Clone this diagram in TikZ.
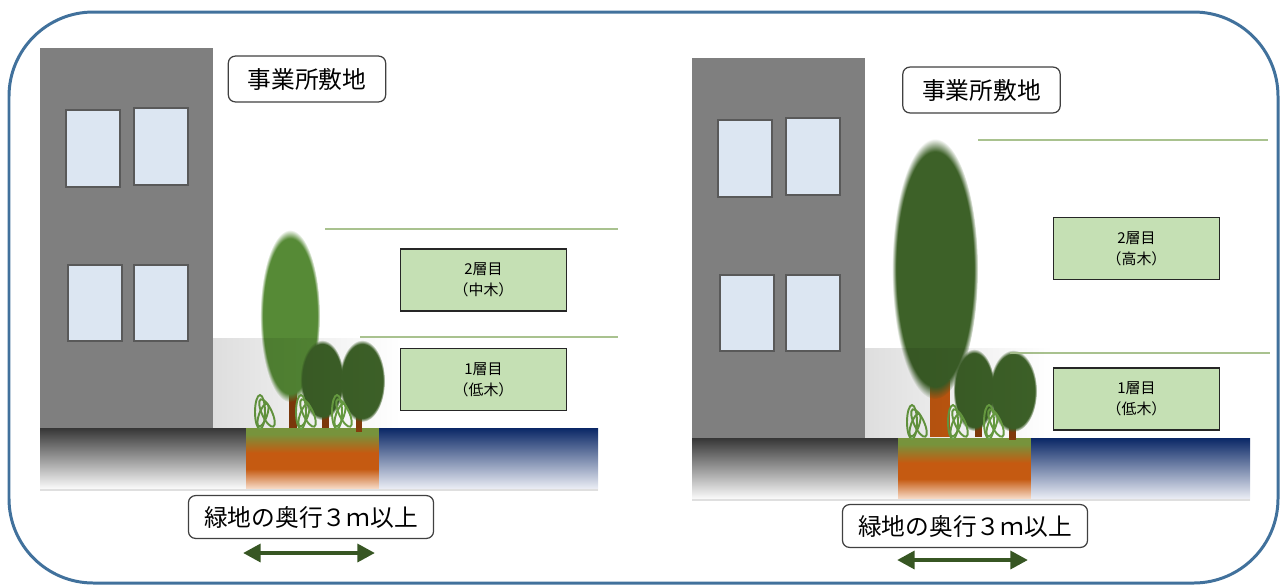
\documentclass[tikz,border=0pt]{standalone}
\usepackage{fontspec}
\setmainfont{Noto Sans CJK JP}
\usepackage{tikz}
\usetikzlibrary{arrows.meta,fadings}

\definecolor{frameblue}{HTML}{41719C}
\definecolor{bldgray}{HTML}{7F7F7F}
\definecolor{winblue}{HTML}{DCE6F2}
\definecolor{winedge}{HTML}{595959}
\definecolor{roadgray}{HTML}{363636}
\definecolor{soilgreen}{HTML}{77933C}
\definecolor{soilorange}{HTML}{C55A11}
\definecolor{soilpale}{HTML}{FBE5D6}
\definecolor{waternavy}{HTML}{0A2766}
\definecolor{waterpale}{HTML}{F0F2F8}
\definecolor{treelight}{HTML}{568A36}
\definecolor{treedark}{HTML}{3D6128}
\definecolor{trunkbrown}{HTML}{843C0C}
\definecolor{trunkorange}{HTML}{C55A11}
\definecolor{grassgreen}{HTML}{6AA043}
\definecolor{linegreen}{HTML}{A9C28F}
\definecolor{boxgreen}{HTML}{C5E0B4}
\definecolor{arrowgreen}{HTML}{375623}

% one picture unit is one pixel of the 1288 x 586 sheet
\newcommand\pxu{0.5669pt}

\pgfdeclareverticalshading{soil}{100bp}{color(0bp)=(soilpale); color(25bp)=(soilpale);
    color(42bp)=(soilorange); color(55bp)=(soilorange); color(70bp)=(soilgreen);
    color(100bp)=(soilgreen)}

\tikzset{
    frame/.style={draw=frameblue,line width=1.7pt,rounded corners=48pt},
    building/.style={fill=bldgray},
    window/.style={fill=winblue,draw=winedge,line width=0.6pt},
    fuzzy/.style={path fading=circle with fuzzy edge 10 percent},
    grass/.style={draw=grassgreen,line width=1.1pt},
    layerline/.style={draw=linegreen,line width=1.3pt},
    sitelabel/.style={draw=black!75,fill=white,rounded corners=4pt,line width=0.7pt,
        minimum width=158*\pxu,minimum height=46*\pxu,inner sep=0pt,
        font=\fontsize{13.5}{16}\selectfont},
    caption/.style={sitelabel,minimum width=246*\pxu,minimum height=43*\pxu},
    layerbox/.style={draw=black!85,fill=boxgreen,line width=0.9pt,
        minimum width=167*\pxu,minimum height=62*\pxu,inner sep=0pt,align=center,
        font=\fontsize{8.5}{12}\selectfont},
    widearrow/.style={draw=arrowgreen,line width=2.8pt,
        {Triangle[length=10pt,width=10pt]}-{Triangle[length=10pt,width=10pt]}}
}

\begin{document}
\begin{tikzpicture}[x=0.02cm,y=-0.02cm]
    \useasboundingbox (0,0) rectangle (1288,586);
    \draw[frame] (9,12) rectangle (1278,583);

    % office building and ground strip, the same on both sides
    \foreach \sx/\sy in {0/0,652/10} {
        \begin{scope}[shift={(\sx,\sy)}]
            \fill[building] (40,48) rectangle (213,428);
            \draw[window] (66,110) rectangle (120,187);
            \draw[window] (134,108) rectangle (188,185);
            \draw[window] (68,265) rectangle (122,341);
            \draw[window] (134,265) rectangle (188,341);
            \shade[top color=roadgray,bottom color=white] (40,428) rectangle (246,490);
            \shade[shading=soil] (246,428) rectangle (379,490);
            \shade[top color=waternavy,bottom color=waterpale] (379,428) rectangle (598,490);
            \draw[gray!25,line width=0.6pt] (40,490) -- (598,490);
        \end{scope}
    }

    \begin{scope}
        \fill[trunkbrown] (289,392) rectangle (297,428);
        \fill[treelight,fuzzy] (290,316) ellipse (30 and 86);
        \fill[trunkbrown] (322,400) rectangle (329,428);
        \fill[trunkbrown] (356,405) rectangle (362,432);
        \fill[treedark,fuzzy] (322,380) ellipse (22 and 40);
        \fill[treedark,fuzzy] (362,381) ellipse (23 and 41);

        \draw[layerline] (325,229) -- (618,229);
        \draw[layerline] (360,337) -- (618,337);

        \node[sitelabel] (site) at (307,79) {事業所敷地};
        \node[layerbox] (upper) at (483.5,280) {2層目\\（中木）};
        \node[layerbox] (lower) at (483.5,379.5) {1層目\\（低木）};
        \node[caption] (depth) at (311,517) {緑地の奥行３ｍ以上};
        \coordinate (wa) at (243,553);
        \coordinate (wb) at (375,553);
        \draw[widearrow] (wa) -- (wb);
    \end{scope}

    \begin{scope}[shift={(652,10)}]
        \fill[trunkorange] (278,370) rectangle (298,427);
        \fill[treedark,fuzzy] (283,259) ellipse (43 and 130);
        \fill[trunkbrown] (323,410) rectangle (330,427);
        \fill[trunkbrown] (357,410) rectangle (364,430);
        \fill[treedark,fuzzy] (322,380) ellipse (21 and 41);
        \fill[treedark,fuzzy] (361,381) ellipse (24 and 41);

        \draw[layerline] (326,130) -- (616,130);
        \draw[layerline] (358,343) -- (618,343);

        \node[sitelabel] (siteb) at (329.5,80) {事業所敷地};
        \node[layerbox] (upperb) at (484.5,238.5) {2層目\\（高木）};
        \node[layerbox] (lowerb) at (484.5,389) {1層目\\（低木）};
        \node[caption] (depthb) at (313,516) {緑地の奥行３ｍ以上};
        \coordinate (wc) at (245,550);
        \coordinate (wd) at (376,550);
        \draw[widearrow] (wc) -- (wd);
    \end{scope}

    % grass tufts and the shadow of the building
    \foreach \sx/\sy in {0/0,652/10} {
        \begin{scope}[shift={(\sx,\sy)}]
            \foreach \gx in {264,305,341} {
                \draw[grass] (\gx-4,412) ellipse (5 and 17);
                \draw[grass,rotate around={25:(\gx+3,413)}] (\gx+3,413) ellipse (5 and 15);
                \draw[grass,rotate around={-20:(\gx-1,415)}] (\gx-1,415) ellipse (4 and 12);
            }
            \fill[black,opacity=0.13,path fading=east] (213,338) rectangle (400,428);
        \end{scope}
    }
\end{tikzpicture}
\end{document}
